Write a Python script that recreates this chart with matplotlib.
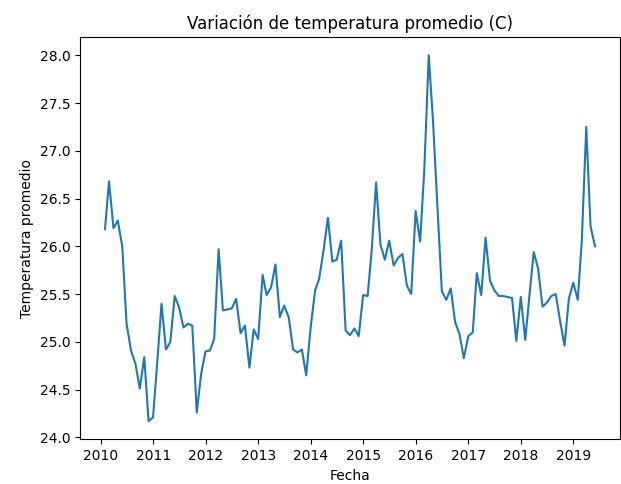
import matplotlib
matplotlib.use("Agg")
import matplotlib.pyplot as plt
import pandas as pd

# monthly mean temperature, Jan 2010 .. May 2019
start_month = "2010-01-31"
temps = [
    26.18, 26.68, 26.19, 26.27, 26.00, 25.19, 24.91, 24.77, 24.51, 24.84, 24.17, 24.21,
    24.82, 25.40, 24.92, 25.00, 25.48, 25.36, 25.15, 25.19, 25.17, 24.26, 24.66, 24.90,
    24.91, 25.03, 25.97, 25.33, 25.34, 25.35, 25.45, 25.09, 25.17, 24.73, 25.13, 25.03,
    25.70, 25.49, 25.57, 25.81, 25.26, 25.38, 25.26, 24.92, 24.89, 24.92, 24.65, 25.15,
    25.54, 25.66, 25.96, 26.30, 25.84, 25.86, 26.06, 25.12, 25.07, 25.14, 25.06, 25.49,
    25.48, 25.95, 26.67, 26.02, 25.86, 26.06, 25.80, 25.88, 25.92, 25.59, 25.50, 26.37,
    26.05, 26.80, 28.00, 27.30, 26.40, 25.53, 25.44, 25.56, 25.21, 25.08, 24.83, 25.06,
    25.10, 25.72, 25.49, 26.09, 25.64, 25.54, 25.48, 25.48, 25.47, 25.46, 25.01, 25.47,
    25.02, 25.47, 25.94, 25.77, 25.37, 25.41, 25.48, 25.50, 25.22, 24.96, 25.45, 25.62,
    25.44, 26.05, 27.25, 26.21, 26.00,
]
fechas = pd.date_range(start_month, periods=len(temps), freq="ME")

fig = plt.figure(figsize=(6.21, 4.84), dpi=100)
ax = fig.add_axes([0.1296, 0.092, 0.868, 0.8316])
ax.plot(fechas, temps, color="#1f77b4", linewidth=1.5)

ax.set_title("Variación de temperatura promedio (C)")
ax.set_xlabel("Fecha")
ax.set_ylabel("Temperatura promedio")

fig.savefig("out.png", dpi=100)
plt.close(fig)
